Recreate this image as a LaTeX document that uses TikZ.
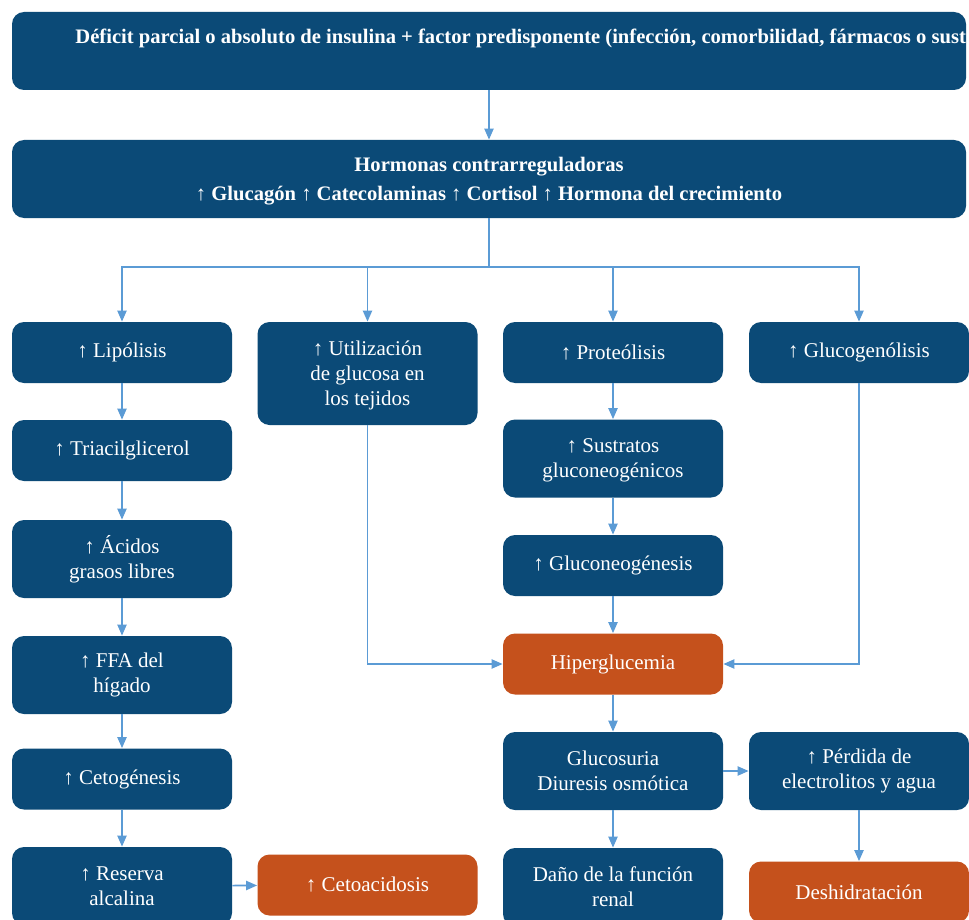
\documentclass[tikz,border=0pt]{standalone}
\usepackage{fontspec}
\setmainfont{Liberation Serif}
\usetikzlibrary{positioning}
\usetikzlibrary{arrows.meta}
\definecolor{boxblue}{HTML}{0B4A77}
\definecolor{boxorange}{HTML}{C5511C}
\definecolor{linkblue}{HTML}{5B9BD5}
\tikzset{
  bluebox/.style={fill=boxblue, text=white, rounded corners=6pt, minimum width=110pt,
    minimum height=30.5pt, align=center, inner sep=2pt, font=\fontsize{10.5}{12.5}\selectfont},
  hotbox/.style={bluebox, fill=boxorange},
  tallbox/.style={minimum height=39pt},
  headfont/.style={font=\bfseries\fontsize{10.3}{12.5}\selectfont},
  link/.style={draw=linkblue, line width=0.8pt, -{Triangle[length=5.5pt,width=4.6pt]}},
  bus/.style={draw=linkblue, line width=0.8pt},
}

\begin{document}
\begin{tikzpicture}[x=0.5pt, y=-0.5pt]
\useasboundingbox (0,0) rectangle (969,920);
\fill[white] (0,0) rectangle (969,920);
\clip (0,0) rectangle (969,920);
% top rows
\node[bluebox, minimum width=477pt, tallbox] (deficit) at (489,51) {};
\node[anchor=base west, text=white, inner sep=0pt, headfont] (deficittext) at (75,44)
  {Déficit parcial o absoluto de insulina + factor predisponente (infección, comorbilidad, fármacos o sust};
\node[bluebox, minimum width=477pt, tallbox, headfont, text depth=-10pt] (hormonas) at (489,179)
  {Hormonas contrarreguladoras\\[2pt] ↑ Glucagón ↑ Catecolaminas ↑ Cortisol ↑ Hormona del crecimiento};
% left column
\node[bluebox] (lipolisis) at (122,352.5) {↑ Lipólisis};
\node[bluebox] (triacil) at (122,450.5) {↑ Triacilglicerol};
\node[bluebox, tallbox] (acidos) at (122,559) {↑ Ácidos\\grasos libres};
\node[bluebox, tallbox] (ffa) at (122,675) {↑ FFA del\\hígado};
\node[bluebox] (cetogen) at (122,779) {↑ Cetogénesis};
\node[bluebox, tallbox] (reserva) at (122,886) {↑ Reserva\\alcalina};
\node[hotbox] (cetoacid) at (367.5,885) {↑ Cetoacidosis};
% second column
\node[bluebox, minimum height=51.5pt, text depth=-6pt] (utiliz) at (367.5,373.5) {↑ Utilización\\de glucosa en\\los tejidos};
% third column
\node[bluebox] (proteol) at (613,352.5) {↑ Proteólisis};
\node[bluebox, tallbox, text depth=-4pt] (sustratos) at (613,458.5) {↑ Sustratos\\gluconeogénicos};
\node[bluebox] (gluconeo) at (613,565.5) {↑ Gluconeogénesis};
\node[hotbox] (hiper) at (613,664) {Hiperglucemia};
\node[bluebox, tallbox] (glucosuria) at (613,771) {Glucosuria\\Diuresis osmótica};
\node[bluebox, tallbox] (dano) at (613,887) {Daño de la función\\renal};
% right column
\node[bluebox] (glucogen) at (859,352.5) {↑ Glucogenólisis};
\node[bluebox, tallbox] (perdida) at (859,771) {↑ Pérdida de\\electrolitos y agua};
\node[hotbox] (deshidra) at (859,892) {Deshidratación};
% connectors
\draw[link] (deficit) -- (hormonas);
\coordinate (split) at (489,267);
\draw[bus] (hormonas) -- (split);
\draw[link] (split) -| (lipolisis);
\draw[link] (split) -| (utiliz);
\draw[link] (split) -| (proteol);
\draw[link] (split) -| (glucogen);
\draw[link] (lipolisis) -- (triacil);
\draw[link] (triacil) -- (acidos);
\draw[link] (acidos) -- (ffa);
\draw[link] (ffa) -- (cetogen);
\draw[link] (cetogen) -- (reserva);
\draw[link] (reserva) -- (cetoacid);
\draw[link] (proteol) -- (sustratos);
\draw[link] (sustratos) -- (gluconeo);
\draw[link] (gluconeo) -- (hiper);
\draw[link] (utiliz) |- (hiper);
\draw[link] (glucogen) |- (hiper);
\draw[link] (hiper) -- (glucosuria);
\draw[link] (glucosuria) -- (dano);
\draw[link] (glucosuria) -- (perdida);
\draw[link] (perdida) -- (deshidra);
\end{tikzpicture}
\end{document}
